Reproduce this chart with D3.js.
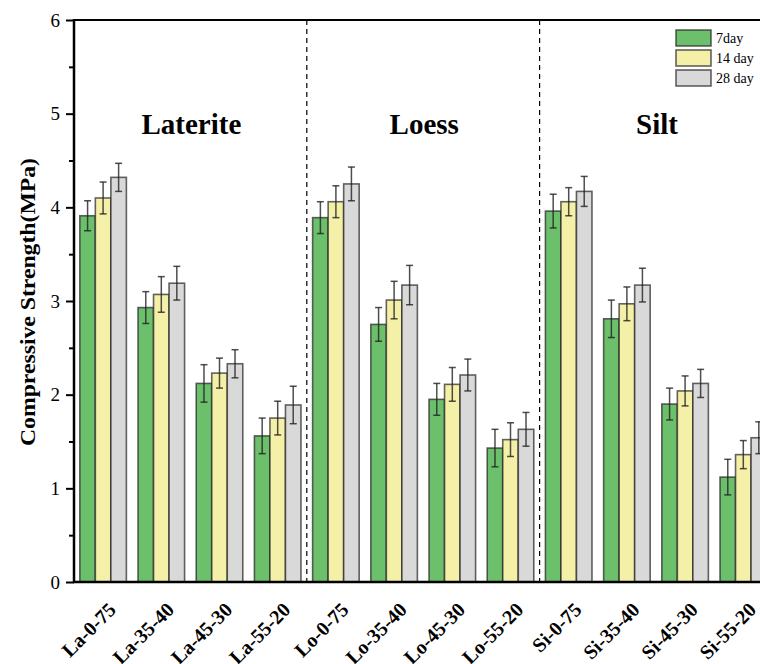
<!DOCTYPE html>
<html>
<head>
<meta charset="utf-8">
<script src="https://cdn.jsdelivr.net/npm/d3@7"></script>
<style>
  body { margin: 0; background: #fff; }
  svg text { font-family: "Liberation Serif", "Times New Roman", serif; }
</style>
</head>
<body>
<div class="chart"></div>
<script>
// #region Data
const categories = ["La-0-75", "La-35-40", "La-45-30", "La-55-20",
                    "Lo-0-75", "Lo-35-40", "Lo-45-30", "Lo-55-20",
                    "Si-0-75", "Si-35-40", "Si-45-30", "Si-55-20"];
const seriesNames = ["7day", "14 day", "28 day"];
const day7  = [3.91, 2.93, 2.12, 1.56, 3.89, 2.75, 1.95, 1.43, 3.96, 2.81, 1.90, 1.12];
const day14 = [4.10, 3.07, 2.23, 1.75, 4.06, 3.01, 2.11, 1.52, 4.06, 2.97, 2.04, 1.36];
const day28 = [4.32, 3.19, 2.33, 1.89, 4.25, 3.17, 2.21, 1.63, 4.17, 3.17, 2.12, 1.54];
const err7  = [0.16, 0.17, 0.20, 0.19, 0.17, 0.18, 0.17, 0.20, 0.18, 0.20, 0.17, 0.19];
const err14 = [0.17, 0.19, 0.16, 0.18, 0.17, 0.20, 0.18, 0.18, 0.15, 0.18, 0.16, 0.15];
const err28 = [0.15, 0.18, 0.15, 0.20, 0.18, 0.21, 0.17, 0.18, 0.16, 0.18, 0.15, 0.17];
const groupNames = ["Laterite", "Loess", "Silt"];
const yTicks = [0, 1, 2, 3, 4, 5, 6];
const colors = ["#6cc06c", "#f5f0a8", "#d9d9d9"];
// #endregion

const width = 760, height = 664;
const margin = { left: 74, top: 20, bottom: 82 };
const plotBottom = height - margin.bottom;

let svg = d3.select(".chart").append("svg")
    .attr("width", width)
    .attr("height", height);

// #region Scales
let xScale = d3.scaleBand()
    .domain(categories)
    .range([margin.left, margin.left + 12 * 58.2])
    .paddingInner(0.2)
    .paddingOuter(0.1);
let xSub = d3.scaleBand()
    .domain(seriesNames)
    .range([0, xScale.bandwidth()]);
let yScale = d3.scaleLinear()
    .domain([0, 6])
    .range([plotBottom, margin.top]);
// #endregion

// #region Bars
const values = [day7, day14, day28];
const errors = [err7, err14, err28];
let rows = [];
categories.forEach((c, i) => {
    seriesNames.forEach((s, j) => {
        rows.push({ cat: c, series: s, j: j, value: values[j][i], err: errors[j][i] });
    });
});

let gBars = svg.append("g").attr("class", "gBars");
gBars.selectAll("rect")
    .data(rows)
    .enter()
    .append("rect")
    .attr("x", d => xScale(d.cat) + xSub(d.series))
    .attr("y", d => yScale(d.value))
    .attr("width", xSub.bandwidth())
    .attr("height", d => yScale(0) - yScale(d.value))
    .attr("fill", d => colors[d.j])
    .attr("stroke", "#222")
    .attr("stroke-opacity", 0.7)
    .attr("stroke-width", 1.6);

let gErr = svg.append("g").attr("class", "gErr")
    .attr("stroke", "#222")
    .attr("stroke-opacity", 0.8)
    .attr("stroke-width", 1.5);
rows.forEach(d => {
    let cx = xScale(d.cat) + xSub(d.series) + xSub.bandwidth() / 2;
    let y1 = yScale(d.value + d.err), y2 = yScale(d.value - d.err);
    gErr.append("line").attr("x1", cx).attr("x2", cx).attr("y1", y1).attr("y2", y2);
    gErr.append("line").attr("x1", cx - 3.5).attr("x2", cx + 3.5).attr("y1", y1).attr("y2", y1);
    gErr.append("line").attr("x1", cx - 3.5).attr("x2", cx + 3.5).attr("y1", y2).attr("y2", y2);
});
// #endregion

// #region Dashed separators & group titles
[3, 7].forEach(k => {
    let xs = (xScale(categories[k]) + xScale.bandwidth() + xScale(categories[k + 1])) / 2;
    svg.append("line")
        .attr("x1", xs).attr("x2", xs)
        .attr("y1", margin.top).attr("y2", plotBottom)
        .attr("stroke", "#000")
        .attr("stroke-width", 1.2)
        .attr("stroke-dasharray", "5,4");
});
groupNames.forEach((g, k) => {
    let a = xScale(categories[k * 4]);
    let b = xScale(categories[k * 4 + 3]) + xScale.bandwidth();
    svg.append("text")
        .attr("x", (a + b) / 2 + 1)
        .attr("y", 134)
        .attr("text-anchor", "middle")
        .attr("font-size", 29)
        .attr("font-weight", "bold")
        .text(g);
});
// #endregion

// #region Axes
let gY = svg.append("g")
    .attr("class", "yScale")
    .attr("transform", "translate(" + margin.left + ",0)")
    .call(d3.axisLeft(yScale).tickValues(yTicks).tickSize(8).tickPadding(6).tickFormat(d3.format("d")));
gY.select(".domain").remove();
gY.selectAll("text").attr("font-size", 19).attr("font-family", "Liberation Serif");
gY.selectAll("line").attr("stroke-width", 2);
svg.append("g")
    .attr("transform", "translate(" + margin.left + ",0)")
    .call(d3.axisLeft(yScale).tickValues(d3.range(0.5, 6, 1)).tickSize(5).tickFormat(""))
    .call(g => g.select(".domain").remove())
    .selectAll("line").attr("stroke-width", 2);

// axis frame lines
svg.append("line").attr("x1", margin.left).attr("x2", margin.left)
    .attr("y1", margin.top - 1).attr("y2", plotBottom + 1)
    .attr("stroke", "#000").attr("stroke-width", 2.5);
svg.append("line").attr("x1", margin.left - 1).attr("x2", width)
    .attr("y1", plotBottom).attr("y2", plotBottom)
    .attr("stroke", "#000").attr("stroke-width", 2.5);
svg.append("line").attr("x1", margin.left - 1).attr("x2", width)
    .attr("y1", margin.top).attr("y2", margin.top)
    .attr("stroke", "#000").attr("stroke-width", 2);

svg.append("g").attr("class", "xLabels")
    .selectAll("text")
    .data(categories)
    .enter()
    .append("text")
    .attr("transform", d => "translate(" + (xScale(d) + xScale.bandwidth() / 2 + 14) + "," + (plotBottom + 29) + ") rotate(-45)")
    .attr("text-anchor", "end")
    .attr("font-size", 20)
    .attr("font-weight", "bold")
    .text(d => d);

svg.append("text")
    .attr("transform", "translate(35," + ((margin.top + plotBottom) / 2 + 1) + ") rotate(-90)")
    .attr("text-anchor", "middle")
    .attr("font-size", 21)
    .attr("font-weight", "bold")
    .attr("textLength", 288)
    .attr("lengthAdjust", "spacingAndGlyphs")
    .text("Compressive Strength(MPa)");
// #endregion

// #region Legend
let gLegend = svg.append("g").attr("class", "gLegend")
    .attr("transform", "translate(676,30)");
seriesNames.forEach((s, i) => {
    gLegend.append("rect")
        .attr("x", 0).attr("y", i * 20)
        .attr("width", 35).attr("height", 16)
        .attr("fill", colors[i])
        .attr("stroke", "#222").attr("stroke-opacity", 0.7).attr("stroke-width", 1.6);
    gLegend.append("text")
        .attr("x", 40).attr("y", i * 20 + 13)
        .attr("font-size", 14)
        .text(s);
});
// #endregion
</script>
</body>
</html>
